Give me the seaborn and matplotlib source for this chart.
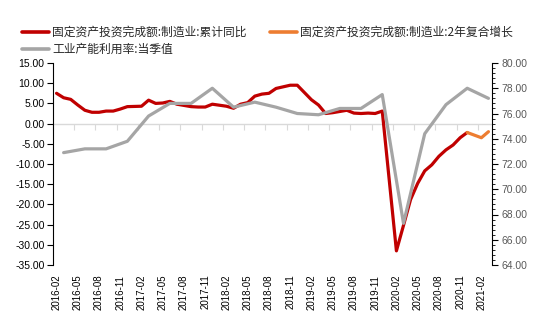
import numpy as np
import pandas as pd
import matplotlib
matplotlib.use("Agg")
import matplotlib.pyplot as plt
import seaborn as sns
from matplotlib.lines import Line2D
from matplotlib.ticker import MultipleLocator, FormatStrFormatter

nan = np.nan

# monthly category axis 2016-02 .. 2021-03
months = [str(p) for p in pd.period_range("2016-02", "2021-03", freq="M")]

# 固定资产投资完成额:制造业:累计同比 (%), Jan has no release
red_yoy = [
    7.5, 6.4, 6.0, 4.6, 3.3, 2.8, 2.8, 3.1, 3.1, 3.6, 4.2,            # 2016-02..12
    nan, 4.3, 5.8, 5.0, 5.1, 5.5, 4.8, 4.5, 4.2, 4.1, 4.1, 4.8,       # 2017
    nan, 4.3, 3.8, 4.8, 5.2, 6.8, 7.3, 7.5, 8.7, 9.1, 9.5, 9.5,       # 2018
    nan, 5.9, 4.6, 2.5, 2.7, 3.0, 3.3, 2.6, 2.5, 2.6, 2.5, 3.1,       # 2019
    nan, -31.5, -25.2, -18.8, -14.8, -11.7, -10.2, -8.1, -6.5, -5.3, -3.5, -2.2,  # 2020
    nan, nan, nan,                                                    # 2021-01..03
]

# 固定资产投资完成额:制造业:2年复合增长 (%)
orange_2y = [nan] * 58 + [-2.2, nan, -3.5, -2.0]

# 工业产能利用率:当季值 (%), quarter-end months
gray_util = [
    nan, 72.9, nan, nan, 73.2, nan, nan, 73.2, nan, nan, 73.8,
    nan, nan, 75.8, nan, nan, 76.8, nan, nan, 76.8, nan, nan, 78.0,
    nan, nan, 76.5, nan, nan, 76.9, nan, nan, 76.5, nan, nan, 76.0,
    nan, nan, 75.9, nan, nan, 76.4, nan, nan, 76.4, nan, nan, 77.5,
    nan, nan, 67.3, nan, nan, 74.4, nan, nan, 76.7, nan, nan, 78.0,
    nan, nan, 77.2,
]

tick_labels = ["2016-02", "2016-05", "2016-08", "2016-11", "2017-02", "2017-05",
               "2017-08", "2017-11", "2018-02", "2018-05", "2018-08", "2018-11",
               "2019-02", "2019-05", "2019-08", "2019-11", "2020-02", "2020-05",
               "2020-08", "2020-11", "2021-02"]

label_red = "固定资产投资完成额:制造业:累计同比"
label_orange = "固定资产投资完成额:制造业:2年复合增长"
label_gray = "工业产能利用率:当季值"

sns.set_theme(style="white")
plt.rcParams["font.family"] = ["Liberation Sans", "DejaVu Sans"]
plt.rcParams["axes.unicode_minus"] = False

df = pd.DataFrame({"month": months, "pos": np.arange(len(months)),
                   "red": red_yoy, "orange": orange_2y, "gray": gray_util})

fig = plt.figure(figsize=(5.42, 3.25), dpi=100)
ax = fig.add_axes([53 / 542, 60 / 325, (492 - 53) / 542, 202 / 325])
ax2 = ax.twinx()

c_red, c_orange, c_gray = "#C00000", "#ED7D31", "#A5A5A5"
lw = 2.3
sns.lineplot(data=df.dropna(subset=["red"]), x="pos", y="red", ax=ax,
             color=c_red, linewidth=lw)
sns.lineplot(data=df.dropna(subset=["orange"]), x="pos", y="orange", ax=ax,
             color=c_orange, linewidth=lw)
sns.lineplot(data=df.dropna(subset=["gray"]), x="pos", y="gray", ax=ax2,
             color=c_gray, linewidth=lw)

ax.set_xlim(-0.5, len(months) - 0.5)
ax.set_ylim(-35, 15)
ax2.set_ylim(64, 80)
for a in (ax, ax2):
    a.set_xlabel("")
    a.set_ylabel("")
    a.grid(False)
    a.set_facecolor("none")

# x labels at bottom
ax.set_xticks([months.index(t) for t in tick_labels])
ax.set_xticklabels(tick_labels)
ax.tick_params(axis="x", bottom=True, length=0, labelrotation=90, labelsize=7,
               pad=7, labelcolor="#000000")

# left axis
ax.set_yticks(np.arange(-35, 16, 5))
ax.yaxis.set_major_formatter(FormatStrFormatter("%.2f"))
ax.tick_params(axis="y", left=True, length=4, width=0.8, direction="out",
               color="black", labelsize=7.5, labelcolor="#000000", pad=2)
for s in ("top", "right", "bottom"):
    ax.spines[s].set_visible(False)
ax.spines["left"].set_color("black")
ax.spines["left"].set_linewidth(0.8)

# right axis
ax2.yaxis.set_major_locator(MultipleLocator(2))
ax2.yaxis.set_minor_locator(MultipleLocator(0.4))
ax2.yaxis.set_major_formatter(FormatStrFormatter("%.2f"))
ax2.tick_params(axis="y", which="major", right=True, length=4, width=0.8,
                direction="out", color="black", labelsize=7.5,
                labelcolor="#595959", pad=3)
ax2.tick_params(axis="y", which="minor", right=True, length=2, width=0.6,
                direction="out", color="black")
for s in ("top", "left", "bottom"):
    ax2.spines[s].set_visible(False)
ax2.spines["right"].set_color("black")
ax2.spines["right"].set_linewidth(0.8)

# zero line with category ticks
sec = ax.secondary_xaxis(0, transform=ax.transData)
sec.set_alignment("bottom")
sec.set_xticks(np.arange(-0.5, len(months) - 2, 3))
sec.tick_params(axis="x", length=4, width=0.8, color="#D9D9D9",
                labelbottom=False, labeltop=False, direction="out")
sec.spines["bottom"].set_color("#D9D9D9")
sec.spines["bottom"].set_linewidth(1.0)

handles = [Line2D([], [], color=c_red, lw=2.6),
           Line2D([], [], color=c_gray, lw=2.6),
           Line2D([], [], color=c_orange, lw=2.6)]
fig.legend(handles, [label_red, label_gray, label_orange], ncol=2,
           loc="upper left", bbox_to_anchor=(22 / 542, 1 - 26 / 325),
           frameon=False, prop={"family": ["Noto Sans CJK SC", "DejaVu Sans"], "size": 8.5},
           handlelength=2.3, handletextpad=0.25, columnspacing=1.95,
           labelspacing=0.32, borderaxespad=0, borderpad=0)

fig.savefig("out.png", dpi=100)
